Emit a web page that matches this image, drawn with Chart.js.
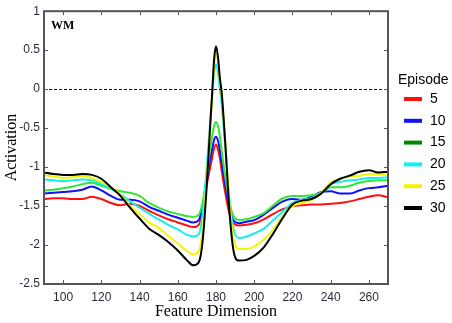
<!DOCTYPE html>
<html>
<head>
<meta charset="utf-8">
<title>WM activation</title>
<script src="https://cdn.jsdelivr.net/npm/chart.js@4.4.1/dist/chart.umd.min.js"></script>
<style>
	html, body { margin: 0; padding: 0; background: #fff; }
	#wrap { position: relative; width: 452px; height: 323px; }
</style>
</head>
<body>
<div id="wrap"><canvas id="myChart"></canvas></div>
<script>
	// feature dimension (x) and activation per episode
	const xs = [90, 95, 100, 105, 110, 115, 120, 125, 130, 135, 140, 145, 150, 155, 160, 165, 168, 171, 173, 175, 177, 178, 179, 180, 181, 182, 183, 185, 187, 189, 192, 196, 200, 205, 210, 215, 220, 225, 230, 235, 240, 245, 250, 255, 260, 265, 270];
	const ep5 = [-1.41, -1.40, -1.40, -1.41, -1.41, -1.38, -1.41, -1.46, -1.49, -1.47, -1.50, -1.56, -1.62, -1.67, -1.71, -1.75, -1.77, -1.74, -1.55, -1.25, -1.00, -0.88, -0.76, -0.71, -0.77, -0.88, -1.05, -1.35, -1.60, -1.72, -1.75, -1.74, -1.72, -1.67, -1.60, -1.54, -1.50, -1.49, -1.48, -1.48, -1.47, -1.46, -1.44, -1.41, -1.38, -1.36, -1.39];
	const ep10 = [-1.34, -1.33, -1.32, -1.31, -1.29, -1.25, -1.30, -1.37, -1.42, -1.42, -1.44, -1.51, -1.56, -1.61, -1.65, -1.69, -1.71, -1.68, -1.50, -1.20, -0.90, -0.77, -0.65, -0.61, -0.66, -0.78, -0.95, -1.25, -1.52, -1.68, -1.72, -1.70, -1.68, -1.61, -1.52, -1.44, -1.41, -1.42, -1.38, -1.32, -1.31, -1.34, -1.34, -1.30, -1.27, -1.26, -1.24];
	const ep15 = [-1.30, -1.29, -1.27, -1.25, -1.22, -1.20, -1.24, -1.28, -1.31, -1.33, -1.37, -1.46, -1.52, -1.57, -1.60, -1.63, -1.64, -1.61, -1.45, -1.15, -0.75, -0.60, -0.47, -0.42, -0.47, -0.60, -0.80, -1.15, -1.45, -1.62, -1.68, -1.67, -1.64, -1.59, -1.49, -1.40, -1.37, -1.37, -1.36, -1.33, -1.26, -1.26, -1.24, -1.20, -1.18, -1.17, -1.17];
	const ep20 = [-1.16, -1.17, -1.18, -1.17, -1.16, -1.17, -1.22, -1.28, -1.35, -1.44, -1.52, -1.60, -1.67, -1.74, -1.80, -1.87, -1.89, -1.86, -1.60, -1.05, -0.40, -0.10, 0.20, 0.32, 0.22, 0.00, -0.20, -0.80, -1.40, -1.78, -1.91, -1.89, -1.85, -1.79, -1.68, -1.57, -1.46, -1.42, -1.40, -1.33, -1.22, -1.19, -1.17, -1.16, -1.14, -1.14, -1.13];
	const ep25 = [-1.10, -1.12, -1.14, -1.13, -1.11, -1.14, -1.19, -1.26, -1.35, -1.50, -1.60, -1.71, -1.78, -1.88, -1.98, -2.08, -2.12, -2.08, -1.80, -1.20, -0.45, -0.10, 0.30, 0.47, 0.35, 0.10, -0.10, -0.75, -1.45, -1.90, -2.05, -2.05, -2.02, -1.93, -1.80, -1.62, -1.50, -1.46, -1.42, -1.33, -1.20, -1.15, -1.12, -1.11, -1.09, -1.09, -1.10];
	const ep30 = [-1.07, -1.09, -1.10, -1.10, -1.09, -1.10, -1.15, -1.26, -1.37, -1.52, -1.66, -1.79, -1.87, -1.96, -2.07, -2.20, -2.26, -2.22, -1.95, -1.30, -0.45, -0.05, 0.38, 0.55, 0.42, 0.15, -0.05, -0.75, -1.55, -2.05, -2.20, -2.19, -2.14, -2.03, -1.85, -1.65, -1.48, -1.43, -1.41, -1.34, -1.22, -1.15, -1.11, -1.06, -1.04, -1.07, -1.06];
	const episodes = ['5', '10', '15', '20', '25', '30'];
	const xTicks = [100, 120, 140, 160, 180, 200, 220, 240, 260];
	const yTicks = [1, 0.5, 0, -0.5, -1, -1.5, -2, -2.5];
	const refLine = 0;

	const series = [ep5, ep10, ep15, ep20, ep25, ep30];
	const lineColors = ['#ff1010', '#1010ff', '#33e633', '#10f0f0', '#f5f500', '#000000'];
	const swatchColors = ['#ff1010', '#1010ff', '#008a00', '#10f0f0', '#f5f500', '#000000'];

	const datasets = series.map((vals, i) => ({
		label: episodes[i],
		data: vals.map((v, k) => ({ x: xs[k], y: v })),
		borderColor: lineColors[i],
		borderWidth: 2,
		pointRadius: 0,
		cubicInterpolationMode: 'monotone',
		fill: false,
		order: series.length - i
	}));

	// frame, inward ticks, zero line, text and legend
	const decor = {
		id: 'decor',
		afterDatasetsDraw(chart) {
			const c = chart.ctx, a = chart.chartArea;
			const sx = chart.scales.x, sy = chart.scales.y;
			c.save();
			// dashed zero line
			const yz = Math.round(sy.getPixelForValue(refLine)) + 0.5;
			c.strokeStyle = '#000';
			c.lineWidth = 1;
			c.setLineDash([3, 2]);
			c.beginPath();
			c.moveTo(a.left, yz);
			c.lineTo(a.right, yz);
			c.stroke();
			c.setLineDash([]);
			// frame
			c.strokeStyle = '#555';
			c.lineWidth = 2;
			c.strokeRect(a.left, a.top, a.right - a.left, a.bottom - a.top);
			// inward tick marks
			c.lineWidth = 1;
			c.beginPath();
			xTicks.forEach(v => {
				const p = Math.round(sx.getPixelForValue(v)) + 0.5;
				c.moveTo(p, a.top); c.lineTo(p, a.top + 4);
				c.moveTo(p, a.bottom); c.lineTo(p, a.bottom - 4);
			});
			yTicks.forEach(v => {
				const p = Math.round(sy.getPixelForValue(v)) + 0.5;
				c.moveTo(a.left, p); c.lineTo(a.left + 4, p);
				c.moveTo(a.right, p); c.lineTo(a.right - 4, p);
			});
			c.stroke();
			// panel label
			c.fillStyle = '#000';
			c.font = 'bold 12px "Liberation Serif"';
			c.textBaseline = 'middle';
			c.fillText('WM', a.left + 7, a.top + 15);
			// legend
			c.font = '14px "Liberation Sans"';
			c.fillText('Episode', 398, 80);
			episodes.forEach((ep, i) => {
				const y = 99 + i * 21.8;
				c.strokeStyle = swatchColors[i];
				c.lineWidth = 4;
				c.beginPath();
				c.moveTo(404, y); c.lineTo(422, y);
				c.stroke();
				c.fillStyle = '#000';
				c.fillText(ep, 430, y);
			});
			c.restore();
		}
	};

	let ctx = document.getElementById('myChart').getContext('2d');
	new Chart(ctx, {
		type: 'line',
		data: { datasets: datasets },
		options: {
			responsive: true,
			maintainAspectRatio: false,
			animation: false,
			layout: { padding: { top: 9, right: 64, left: 0, bottom: 0 } },
			plugins: { legend: { display: false }, tooltip: { enabled: false } },
			scales: {
				x: {
					type: 'linear',
					min: 90, max: 270,
					afterFit: s => { s.height = 39; },
					afterBuildTicks: s => { s.ticks = xTicks.map(v => ({ value: v })); },
					grid: { display: false, drawTicks: false },
					border: { display: false },
					ticks: { color: '#2a2a3a', font: { family: 'Liberation Sans', size: 12 }, padding: 6, maxRotation: 0, callback: v => String(v) },
					title: { display: true, text: 'Feature Dimension', color: '#000', font: { family: 'Liberation Serif', size: 16 }, padding: { top: 0, bottom: 2 } }
				},
				y: {
					min: -2.5, max: 1,
					afterFit: s => { s.width = 44; },
					afterBuildTicks: s => { s.ticks = yTicks.map(v => ({ value: v })); },
					grid: { display: false, drawTicks: false },
					border: { display: false },
					ticks: { color: '#2a2a3a', font: { family: 'Liberation Sans', size: 12 }, padding: 4, callback: v => String(v) },
					title: { display: true, text: 'Activation', color: '#000', font: { family: 'Liberation Serif', size: 16 }, padding: { top: 2, bottom: 0 } }
				}
			}
		},
		plugins: [decor]
	});
</script>
</body>
</html>
